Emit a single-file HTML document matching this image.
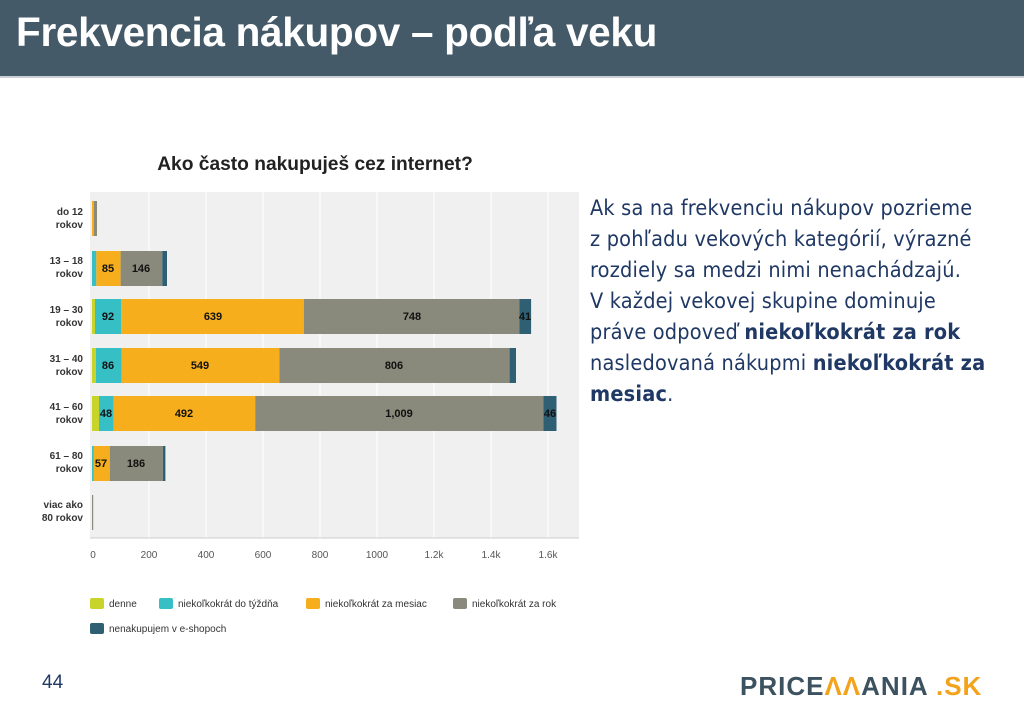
<!DOCTYPE html>
<html><head><meta charset="utf-8"><style>
body{margin:0;width:1024px;height:718px;background:#fff;overflow:hidden;position:relative;font-family:"Liberation Sans",sans-serif}
.hdr{position:absolute;left:0;top:0;width:1024px;height:76px;background:#445a68;border-bottom:2px solid #c9cfd3}
.hdr h1{margin:0;position:absolute;left:16px;top:9px;color:#fff;font-size:40.5px;font-weight:bold;font-family:"Liberation Sans",sans-serif;letter-spacing:-0.3px;white-space:nowrap}
.txt{position:absolute;left:590px;top:193px;width:430px;white-space:nowrap;font-size:21.5px;line-height:31px;color:#1f3864;font-family:"DejaVu Sans Condensed","Liberation Sans",sans-serif;letter-spacing:0.2px}
.num{position:absolute;left:42px;top:672px;font-size:19px;color:#1f3864}
.logo{position:absolute;left:740px;top:671px;font-size:26px;font-weight:bold;color:#3d5260;letter-spacing:1px;white-space:nowrap}
.logo span{color:#f3a31b}
</style></head><body>
<div class="hdr"><h1>Frekvencia nákupov – podľa veku</h1></div>
<svg width="1024" height="718" style="position:absolute;left:0;top:0" font-family="Liberation Sans,sans-serif">
<text x="315" y="170" font-size="19.2" font-weight="bold" text-anchor="middle" fill="#222">Ako často nakupuješ cez internet?</text>
<rect x="90" y="192" width="489" height="346" fill="#f0f0f0"/>
<g stroke="#fff" stroke-width="1">
<line x1="149" y1="192" x2="149" y2="538"/><line x1="206" y1="192" x2="206" y2="538"/><line x1="263" y1="192" x2="263" y2="538"/><line x1="320" y1="192" x2="320" y2="538"/><line x1="377" y1="192" x2="377" y2="538"/><line x1="434" y1="192" x2="434" y2="538"/><line x1="491" y1="192" x2="491" y2="538"/><line x1="548" y1="192" x2="548" y2="538"/>
</g>
<line x1="90" y1="538" x2="579" y2="538" stroke="#ccc"/>
<g font-size="10" fill="#555" text-anchor="middle">
<text x="93" y="558">0</text><text x="149" y="558">200</text><text x="206" y="558">400</text><text x="263" y="558">600</text><text x="320" y="558">800</text><text x="377" y="558">1000</text><text x="434" y="558">1.2k</text><text x="491" y="558">1.4k</text><text x="548" y="558">1.6k</text>
</g>
<g font-size="10" font-weight="bold" fill="#333" text-anchor="end">
<text x="83" y="215">do 12</text><text x="83" y="228">rokov</text>
<text x="83" y="264">13 – 18</text><text x="83" y="277">rokov</text>
<text x="83" y="313">19 – 30</text><text x="83" y="326">rokov</text>
<text x="83" y="362">31 – 40</text><text x="83" y="375">rokov</text>
<text x="83" y="410">41 – 60</text><text x="83" y="423">rokov</text>
<text x="83" y="459">61 – 80</text><text x="83" y="472">rokov</text>
<text x="83" y="508">viac ako</text><text x="83" y="521">80 rokov</text>
</g>
<rect x="92" y="201" width="2" height="35" fill="#f6ae1c"/><rect x="94" y="201" width="3" height="35" fill="#8a8a7c"/>
<rect x="92" y="251" width="4.3" height="35" fill="#36bfc5"/><rect x="96.3" y="251" width="24.3" height="35" fill="#f6ae1c"/><rect x="120.6" y="251" width="41.7" height="35" fill="#8a8a7c"/><rect x="162.3" y="251" width="4.7" height="35" fill="#2f5f72"/>
<rect x="92" y="299" width="3" height="35" fill="#c9d42a"/><rect x="95" y="299" width="26.3" height="35" fill="#36bfc5"/><rect x="121.3" y="299" width="182.5" height="35" fill="#f6ae1c"/><rect x="303.8" y="299" width="215.6" height="35" fill="#8a8a7c"/><rect x="519.4" y="299" width="11.7" height="35" fill="#2f5f72"/>
<rect x="92" y="348" width="4" height="35" fill="#c9d42a"/><rect x="96" y="348" width="25.6" height="35" fill="#36bfc5"/><rect x="121.6" y="348" width="157.8" height="35" fill="#f6ae1c"/><rect x="279.4" y="348" width="230.2" height="35" fill="#8a8a7c"/><rect x="509.6" y="348" width="6.4" height="35" fill="#2f5f72"/>
<rect x="92" y="396" width="7" height="35" fill="#c9d42a"/><rect x="99" y="396" width="14.7" height="35" fill="#36bfc5"/><rect x="113.7" y="396" width="141.5" height="35" fill="#f6ae1c"/><rect x="255.2" y="396" width="288.2" height="35" fill="#8a8a7c"/><rect x="543.4" y="396" width="13.1" height="35" fill="#2f5f72"/>
<rect x="92" y="446" width="1.5" height="35" fill="#36bfc5"/><rect x="93.5" y="446" width="16.3" height="35" fill="#f6ae1c"/><rect x="109.8" y="446" width="53.1" height="35" fill="#8a8a7c"/><rect x="162.9" y="446" width="2.5" height="35" fill="#2f5f72"/>
<rect x="92" y="495" width="1.2" height="35" fill="#8a8a7c"/>
<g font-size="11" font-weight="bold" fill="#111" text-anchor="middle">
<text x="108" y="272">85</text><text x="141" y="272">146</text>
<text x="108" y="320">92</text><text x="213" y="320">639</text><text x="412" y="320">748</text><text x="525" y="320">41</text>
<text x="108" y="369">86</text><text x="200" y="369">549</text><text x="394" y="369">806</text>
<text x="106" y="417">48</text><text x="184" y="417">492</text><text x="399" y="417">1,009</text><text x="550" y="417">46</text>
<text x="101" y="467">57</text><text x="136" y="467">186</text>
</g>
<g font-size="10" fill="#333">
<rect x="90" y="598" width="14" height="11" rx="2" fill="#c9d42a"/><text x="109" y="607">denne</text>
<rect x="159" y="598" width="14" height="11" rx="2" fill="#36bfc5"/><text x="178" y="607">niekoľkokrát do týždňa</text>
<rect x="306" y="598" width="14" height="11" rx="2" fill="#f6ae1c"/><text x="325" y="607">niekoľkokrát za mesiac</text>
<rect x="453" y="598" width="14" height="11" rx="2" fill="#8a8a7c"/><text x="472" y="607">niekoľkokrát za rok</text>
<rect x="90" y="623" width="14" height="11" rx="2" fill="#2f5f72"/><text x="109" y="632">nenakupujem v e-shopoch</text>
</g>
</svg>
<div class="txt">Ak sa na frekvenciu nákupov pozrieme<br>z pohľadu vekových kategórií, výrazné<br>rozdiely sa medzi nimi nenachádzajú.<br>V každej vekovej skupine dominuje<br>práve odpoveď <b>niekoľkokrát za rok</b><br>nasledovaná nákupmi <b>niekoľkokrát za</b><br><b>mesiac</b>.</div>
<div class="num">44</div>
<div class="logo">PRICE<span>ΛΛ</span>ANIA <span>.SK</span></div>
</body></html>
